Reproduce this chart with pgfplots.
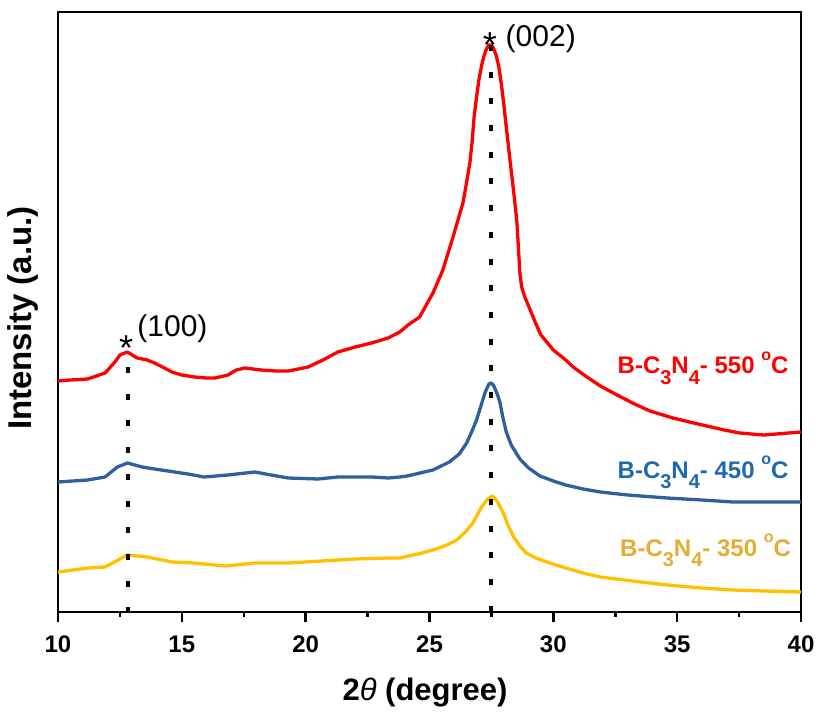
\documentclass[border=0pt]{standalone}
\usepackage{pgfplots}
\pgfplotsset{compat=1.18}
\usepackage{fontspec}
\setmainfont{Liberation Sans}

\definecolor{c550}{RGB}{255,0,0}
\definecolor{c450}{RGB}{46,96,158}
\definecolor{c350}{RGB}{255,192,0}
\definecolor{l450}{RGB}{30,106,176}
\definecolor{l350}{RGB}{228,172,48}

\newcommand\mysub[1]{\raisebox{-0.45em}{\fontsize{20}{20}\selectfont #1}}
\newcommand\degsign{\raisebox{0.55em}{\fontsize{16}{16}\selectfont o}}
\newcommand\samplelabel[1]{\fontsize{24}{26}\selectfont\bfseries B-C\mysub{3}N\mysub{4}- #1 \degsign C}

\begin{document}
\begin{tikzpicture}
\begin{axis}[
  scale only axis,
  width=743pt, height=600pt,
  xmin=10, xmax=40, ymin=0, ymax=600,
  xtick={10,15,20,25,30,35,40},
  minor xtick={12.5,17.5,22.5,27.5,32.5,37.5},
  ytick=\empty,
  xtick pos=left,
  tick align=outside,
  major tick length=10pt,
  minor tick length=5pt,
  tick style={black, line width=2.5pt},
  axis line style={line width=2.5pt},
  /pgf/number format/assume math mode=true,
  ticklabel style={font=\fontsize{24}{26}\selectfont\bfseries},
  xticklabel style={yshift=-10pt},
  xlabel={2{\mdseries\itshape θ} (degree)},
  ylabel={Intensity (a.u.)},
  label style={font=\fontsize{31}{33}\selectfont\bfseries},
  ylabel style={font=\fontsize{33}{35}\selectfont\bfseries},
  xlabel style={at={(axis description cs:0.494,-0.135)}, anchor=center},
  ylabel style={at={(axis description cs:-0.047,0.49)}, anchor=center},
  clip=false,
]
% B-C3N4 calcined at 550 C
\addplot[c550, line width=3.3pt, line join=round] coordinates {
(10.0,231) (10.5,232) (11.2,233) (11.9,239) (12.3,250) (12.5,257) (12.8,260)
(13.0,257) (13.2,254) (13.6,252) (13.9,249) (14.3,244) (14.6,240) (15.0,237)
(15.5,235) (16.0,234) (16.34,234) (16.86,237) (17.2,242) (17.55,244) (18.2,242)
(18.8,241) (19.3,241) (20.1,245) (20.7,252) (21.3,260) (22.0,265) (22.66,269)
(23.33,274) (23.8,280) (24.13,287) (24.6,295) (25.14,319) (25.54,342) (25.95,375)
(26.35,409) (26.5,430) (26.63,449) (26.72,470) (26.8,495) (26.9,515) (27.0,533)
(27.1,546) (27.2,556) (27.3,563) (27.4,567) (27.5,567) (27.6,563) (27.7,556)
(27.8,545) (27.9,528) (28.0,508) (28.1,485) (28.25,452) (28.4,420) (28.53,390)
(28.6,360) (28.65,339) (28.72,325) (28.85,315) (29.05,303) (29.3,288) (29.5,277)
(30.0,262) (30.5,252) (30.8,245) (31.3,236) (31.9,226) (32.5,218) (33.2,209)
(33.9,201) (34.83,194) (35.5,190) (36.2,186) (36.9,182) (37.53,179) (38.0,178)
(38.5,177) (39.0,178) (39.5,179) (40.0,180)
};
% B-C3N4 calcined at 450 C
\addplot[c450, line width=3.3pt, line join=round] coordinates {
(10.0,130) (11.2,132) (11.9,135) (12.4,145) (12.8,149) (13.4,145) (13.9,143)
(15.25,138) (15.9,135) (16.86,137) (17.95,140) (18.6,137) (19.3,134) (20.5,133)
(21.3,135) (22.7,135) (23.33,134) (23.8,135) (24.1,136) (25.14,142) (25.8,150)
(26.2,158) (26.5,169) (26.7,180) (26.9,192) (27.1,208) (27.25,220) (27.4,228)
(27.5,229) (27.6,226) (27.75,217) (27.85,209) (27.95,196) (28.1,180) (28.3,167)
(28.65,153) (29.0,144) (29.46,136) (30.0,131) (30.5,127) (31.2,123) (31.9,120)
(33.0,117) (34.6,114) (36.0,112) (37.25,110) (38.5,110) (40.0,110)
};
% B-C3N4 calcined at 350 C
\addplot[c350, line width=3.3pt, line join=round] coordinates {
(10.0,40) (11.2,44) (11.9,45) (12.8,57) (13.6,55) (14.6,50) (15.5,49) (16.75,46)
(17.95,49) (19.3,49) (20.66,51) (22.0,53) (23.33,54) (23.8,54) (24.7,59)
(25.14,62) (25.7,67) (26.1,72) (26.45,80) (26.75,89) (27.1,105) (27.35,113)
(27.55,116) (27.75,110) (27.98,99) (28.2,85) (28.4,75) (28.65,66) (28.9,59)
(29.3,54) (29.86,49) (30.5,44) (31.2,39) (31.9,35) (33.2,31) (34.6,27) (36.0,24)
(37.25,22) (38.5,21) (40.0,20)
};
\coordinate (a1) at (axis cs:12.82,245);
\coordinate (a0) at (axis cs:12.82,0);
\coordinate (b1) at (axis cs:27.47,567);
\coordinate (b0) at (axis cs:27.47,0);
\coordinate (sa) at (axis cs:12.75,251);
\coordinate (ta) at (axis cs:13.2,275);
\coordinate (sb) at (axis cs:27.44,554);
\coordinate (tb) at (axis cs:28.07,565);
\coordinate (l5) at (axis cs:39.5,238);
\coordinate (l4) at (axis cs:39.5,134);
\coordinate (l3) at (axis cs:39.6,56);
\end{axis}
% reflection positions
\draw[black, line width=4pt, dash pattern=on 6pt off 20.7pt] (a1) -- (a0);
\draw[black, line width=4pt, dash pattern=on 6pt off 20.7pt] (b1) -- (b0);
\node[anchor=base, inner sep=0pt, font=\fontsize{36}{38}\selectfont] at (sa) {*};
\node[anchor=base west, inner sep=0pt, font=\fontsize{30}{32}\selectfont] at (ta) {(100)};
\node[anchor=base, inner sep=0pt, font=\fontsize{36}{38}\selectfont] at (sb) {*};
\node[anchor=base west, inner sep=0pt, font=\fontsize{30}{32}\selectfont] at (tb) {(002)};
% sample labels
\node[anchor=base east, inner sep=0pt, text=c550] at (l5) {\samplelabel{550}};
\node[anchor=base east, inner sep=0pt, text=l450] at (l4) {\samplelabel{450}};
\node[anchor=base east, inner sep=0pt, text=l350] at (l3) {\samplelabel{350}};
\pgfresetboundingbox
\useasboundingbox ([shift={(-58pt,-100pt)}]current axis.south west) rectangle ([shift={(20pt,12pt)}]current axis.north east);
\end{tikzpicture}
\end{document}
